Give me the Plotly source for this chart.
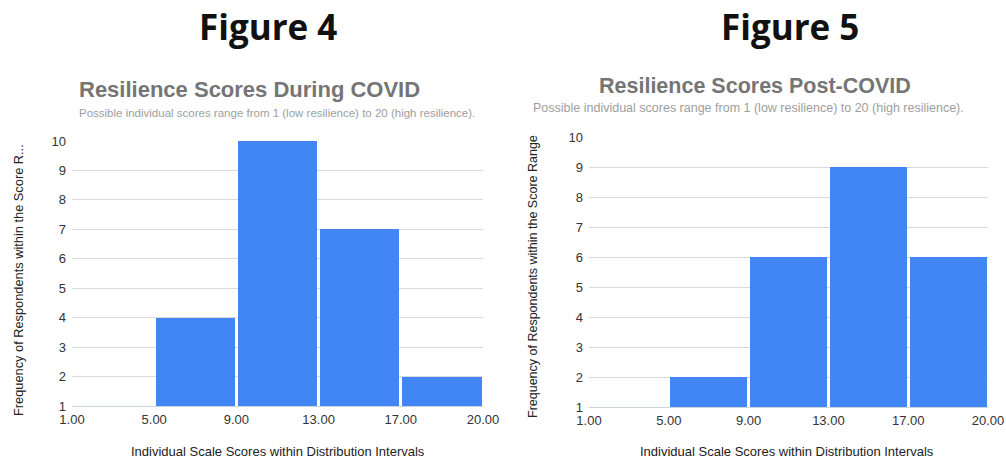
import plotly.graph_objects as go

W, H = 1006, 460

interval_labels = ["1.00", "5.00", "9.00", "13.00", "17.00", "20.00"]
during_counts = [0, 4, 10, 7, 2]
post_counts = [1, 2, 6, 9, 6]
y_ticks = [1, 2, 3, 4, 5, 6, 7, 8, 9, 10]

BAR = "#4285F4"
GRID = "#d9d9d9"
TICK = "#333333"
FONT = "Liberation Sans, Arial, sans-serif"

def px(x):
    return x / W

def py(y):
    return 1 - y / H

centers = [i + 0.5 for i in range(len(during_counts))]

fig = go.Figure()
fig.add_trace(go.Bar(x=centers, y=during_counts, width=0.965, marker_color=BAR,
                     marker_line_width=0, xaxis="x", yaxis="y", showlegend=False))
fig.add_trace(go.Bar(x=centers, y=post_counts, width=0.965, marker_color=BAR,
                     marker_line_width=0, xaxis="x2", yaxis="y2", showlegend=False))

def xaxis_cfg(domain, anchor):
    return dict(domain=domain, anchor=anchor, range=[0, 5], automargin=False,
                tickmode="array", tickvals=list(range(len(interval_labels))),
                ticktext=interval_labels, showgrid=False, zeroline=False,
                showline=True, linecolor="#cfd3da", linewidth=1,
                ticks="", ticklen=0, ticklabelstandoff=1,
                tickfont=dict(family=FONT, size=13, color=TICK))

def yaxis_cfg(domain, anchor):
    return dict(domain=domain, anchor=anchor, range=[1, 10], automargin=False,
                tickmode="array", tickvals=y_ticks, showgrid=True,
                gridcolor=GRID, gridwidth=1, zeroline=False, showline=False,
                ticks="", ticklabelstandoff=5,
                tickfont=dict(family=FONT, size=13, color=TICK))

fig.update_layout(
    width=W, height=H, margin=dict(l=0, r=0, t=0, b=0, autoexpand=False),
    paper_bgcolor="white", plot_bgcolor="white",
    xaxis=xaxis_cfg([px(72), px(483)], "y"),
    yaxis=yaxis_cfg([py(406), py(141)], "x"),
    xaxis2=xaxis_cfg([px(589), px(988)], "y2"),
    yaxis2=yaxis_cfg([py(407), py(137)], "x2"),
    bargap=0,
)

ann = []
def add(text, x, y, size, color, bold=False, family=FONT, xanchor="center", angle=0):
    ann.append(dict(text=f"<b>{text}</b>" if bold else text, x=px(x), y=py(y),
                    xref="paper", yref="paper", showarrow=False,
                    xanchor=xanchor, yanchor="middle", textangle=angle,
                    font=dict(family=family, size=size, color=color)))

FIGFONT = "Open Sans, Lato, sans-serif"
add("Figure 4", 268, 27, 35, "#111111", bold=True, family=FIGFONT)
add("Figure 5", 790, 27, 35, "#111111", bold=True, family=FIGFONT)

add("Resilience Scores During COVID", 77, 89, 22, "#757575", bold=True, xanchor="left")
add("Possible individual scores range from 1 (low resilience) to 20 (high resilience).",
    77, 113, 11.5, "#9e9e9e", xanchor="left")
add("Resilience Scores Post-COVID", 755, 86, 21.5, "#757575", bold=True)
add("Possible individual scores range from 1 (low resilience) to 20 (high resilience).",
    748, 108, 12.5, "#9e9e9e")

add("Frequency of Respondents within the Score R...", 18, 280, 12.8, "#222222", angle=-90)
add("Frequency of Respondents within the Score Range", 533, 277, 12.5, "#222222", angle=-90)

add("Individual Scale Scores within Distribution Intervals", 278, 451, 13, "#222222")
add("Individual Scale Scores within Distribution Intervals", 787, 451, 13, "#222222")

fig.update_layout(annotations=ann)
fig.write_html("out.html", config={"displayModeBar": False},
               post_script="document.body.style.margin='0';document.body.style.overflow='hidden';")
